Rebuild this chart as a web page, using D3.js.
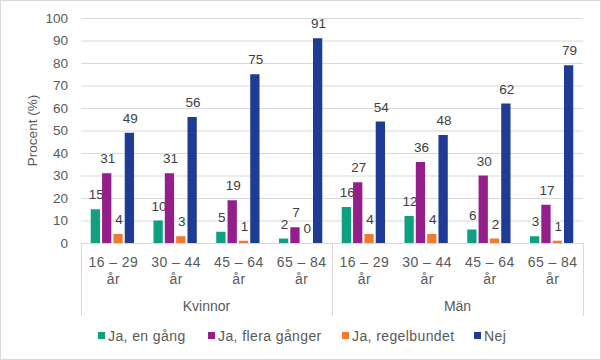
<!DOCTYPE html>
<html>
<head>
<meta charset="utf-8">
<script src="https://cdn.jsdelivr.net/npm/d3@7"></script>
<style>
  body { margin: 0; background: #fff; }
  svg { font-family: "Liberation Sans", Arial, sans-serif; }
</style>
</head>
<body>
<div id="container"></div>
<script>
var width = 601;
var height = 360;

// data
var genders = ["Kvinnor", "Män"];
var ages = ["16 – 29 år", "30 – 44 år", "45 – 64 år", "65 – 84 år"];
var series = ["Ja, en gång", "Ja, flera gånger", "Ja, regelbundet", "Nej"];
var colors = ["#0FA17F", "#951F8A", "#EE7B2E", "#1F3B93"];
var enGang   = [15, 10, 5, 2, 16, 12, 6, 3];
var fleraGgr = [31, 31, 19, 7, 27, 36, 30, 17];
var regelb   = [4, 3, 1, 0, 4, 4, 2, 1];
var nej      = [49, 56, 75, 91, 54, 48, 62, 79];
var yTicks = [0, 10, 20, 30, 40, 50, 60, 70, 80, 90, 100];

var values = [enGang, fleraGgr, regelb, nej];

// one entry per x category (gender x age)
var cats = [];
genders.forEach(function(g) {
    ages.forEach(function(a) { cats.push({gender: g, age: a, key: g + "|" + a}); });
});

var margin = {left: 81, right: 18, top: 18, bottom: 117};
var plotW = width - margin.left - margin.right;
var plotH = height - margin.top - margin.bottom;

var svg = d3.select("div#container").append("svg")
    .attr("width", width)
    .attr("height", height);

// chart area border
svg.append("rect")
    .attr("x", 0.5).attr("y", 0.5)
    .attr("width", width - 1).attr("height", height - 1)
    .attr("fill", "#fff")
    .attr("stroke", "#D9D9D9");

var g = svg.append("g").attr("transform", "translate(" + margin.left + "," + margin.top + ")");

var x0 = d3.scaleBand()
    .domain(cats.map(function(d) { return d.key; }))
    .range([0, plotW])
    .paddingInner(0.31)
    .paddingOuter(0.155);

var x1 = d3.scaleBand()
    .domain(series)
    .range([0, x0.bandwidth()])
    .paddingInner(0.18);

var y = d3.scaleLinear().domain([0, 100]).range([plotH, 0]);

// gridlines + y labels
var yAxis = d3.axisLeft(y).tickValues(yTicks).tickSize(-plotW).tickPadding(13);
g.append("g")
    .call(yAxis)
    .call(function(s) {
        s.select(".domain").remove();
        s.selectAll(".tick line").attr("stroke", "#D9D9D9");
        s.selectAll(".tick text")
            .attr("fill", "#595959")
            .style("font-size", "13.5px")
            .style("font-family", "'Liberation Sans', Arial, sans-serif");
        s.selectAll(".tick").filter(function(d) { return d === 0; }).select("line").remove();
    });

// y title
g.append("text")
    .attr("transform", "translate(-44," + (plotH / 2) + ") rotate(-90)")
    .attr("text-anchor", "middle")
    .attr("fill", "#595959")
    .style("font-size", "13.5px")
    .text("Procent (%)");

// bars
var groups = g.selectAll("g.cat")
    .data(cats)
    .enter().append("g")
    .attr("class", "cat")
    .attr("transform", function(d) { return "translate(" + x0(d.key) + ",0)"; });

groups.each(function(c, ci) {
    var grp = d3.select(this);
    series.forEach(function(s, si) {
        var v = values[si][ci];
        grp.append("rect")
            .attr("x", x1(s))
            .attr("y", y(v))
            .attr("width", x1.bandwidth())
            .attr("height", plotH - y(v))
            .attr("fill", colors[si]);
        grp.append("text")
            .attr("x", x1(s) + x1.bandwidth() / 2 + 1)
            .attr("y", y(v) - 10)
            .attr("text-anchor", "middle")
            .attr("fill", "#404040")
            .style("font-size", "13.5px")
            .text(v);
    });
});

// category axis
var axisCol = "#D9D9D9";
g.append("line")
    .attr("x1", 0).attr("x2", plotW)
    .attr("y1", plotH + 0.5).attr("y2", plotH + 0.5)
    .attr("stroke", axisCol);

var step = plotW / cats.length;
[0, ages.length, cats.length].forEach(function(i) {
    var xx = Math.round(i * step) + 0.5;
    g.append("line")
        .attr("x1", xx).attr("x2", xx)
        .attr("y1", plotH).attr("y2", plotH + 73)
        .attr("stroke", axisCol);
});

cats.forEach(function(c) {
    var cx = x0(c.key) + x0.bandwidth() / 2 + 1;
    var parts = c.age.split(" år");
    var t = g.append("text")
        .attr("text-anchor", "middle")
        .attr("fill", "#595959")
        .style("font-size", "14px")
        .style("letter-spacing", "0.4px");
    t.append("tspan").attr("x", cx).attr("y", plotH + 24).text(parts[0]);
    t.append("tspan").attr("x", cx).attr("y", plotH + 41).text("år");
});

genders.forEach(function(gn, gi) {
    var cx = (gi * ages.length + ages.length / 2) * step;
    g.append("text")
        .attr("x", cx)
        .attr("y", plotH + 68)
        .attr("text-anchor", "middle")
        .attr("fill", "#595959")
        .style("font-size", "14px")
        .text(gn);
});

// legend
var legendX = [98, 208, 342, 474];
var legend = svg.append("g").attr("transform", "translate(0,336)");
series.forEach(function(s, i) {
    legend.append("rect")
        .attr("x", legendX[i]).attr("y", -4)
        .attr("width", 7).attr("height", 7)
        .attr("fill", colors[i]);
    legend.append("text")
        .attr("x", legendX[i] + 10)
        .attr("y", 5)
        .attr("fill", "#595959")
        .style("font-size", "14px")
        .style("letter-spacing", "0.4px")
        .text(s);
});
</script>
</body>
</html>
